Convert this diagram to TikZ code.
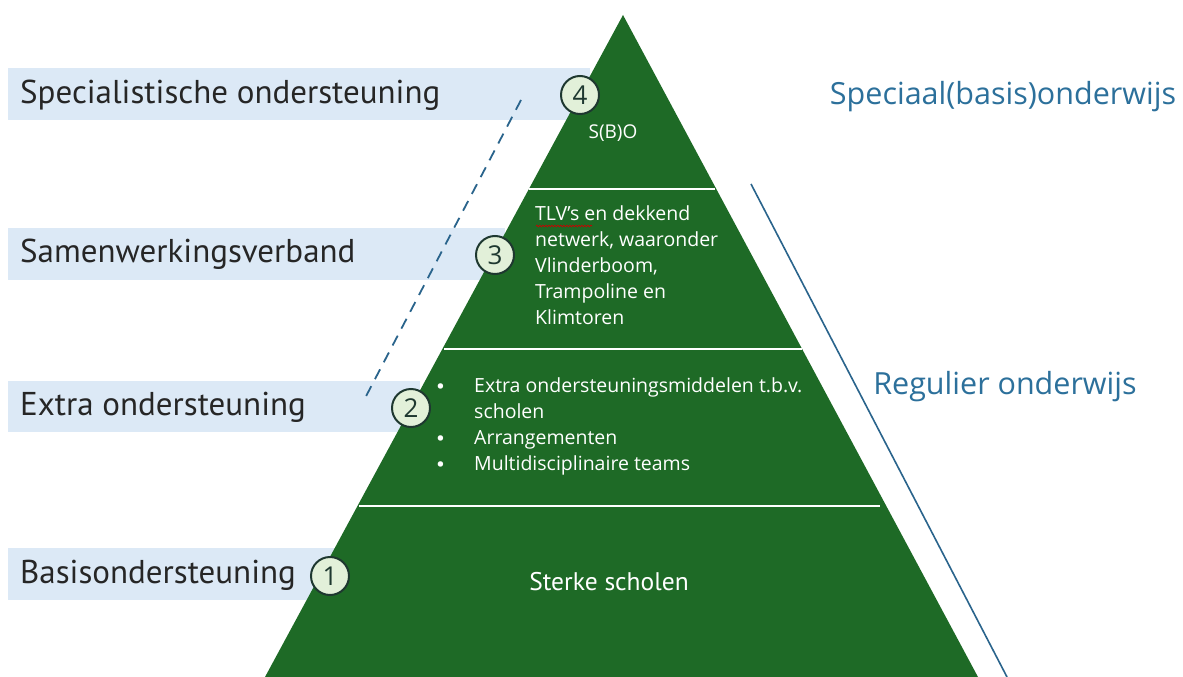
\documentclass[tikz,border=0pt]{standalone}
\usepackage{fontspec}
\setmainfont{Open Sans}
\newfontfamily\labelfont{PT Sans}
\usetikzlibrary{positioning,decorations.pathmorphing}

\definecolor{pyrgreen}{RGB}{30,106,38}
\definecolor{barblue}{RGB}{220,233,246}
\definecolor{badgefill}{RGB}{226,240,217}
\definecolor{badgeline}{RGB}{30,56,48}
\definecolor{sideblue}{RGB}{44,112,155}
\definecolor{lineblue}{RGB}{42,100,140}

\newcommand\bul{\makebox[38pt][l]{\labelfont\textbullet}}

\begin{document}
\begin{tikzpicture}[x=1pt,y=-1pt,
    lvl/.style={anchor=west, inner sep=0pt, text=black!85, font=\labelfont\fontsize{33}{36}\selectfont},
    badge/.style={circle, draw=badgeline, line width=2pt, fill=badgefill, minimum size=38pt, inner sep=0pt,
        text=badgeline, font=\fontsize{26}{26}\selectfont},
    tiertxt/.style={text=white, inner sep=0pt, align=left},
    side/.style={text=sideblue, inner sep=0pt, font=\fontsize{30.5}{34}\selectfont},
    sep/.style={white, line width=2pt},
]
\useasboundingbox[fill=white] (0,0) rectangle (1183,677);

% bars behind the pyramid
\fill[barblue] (8,68) rectangle (590,120);
\fill[barblue] (8,228) rectangle (505,280);
\fill[barblue] (8,381) rectangle (420,432);
\fill[barblue] (8,548) rectangle (335,600);

\node[lvl] (l4) at (20,95) {Specialistische ondersteuning};
\node[lvl] (l3) at (20,254) {Samenwerkingsverband};
\node[lvl] (l2) at (20,407) {Extra ondersteuning};
\node[lvl] (l1) at (20,575) {Basisondersteuning};

% pyramid
\coordinate (top) at (623,15);
\coordinate (bl) at (265,677);
\coordinate (br) at (978,677);
\fill[pyrgreen] (top) -- (bl) -- (br) -- cycle;
\draw[sep] (529,189) -- (715,189);
\draw[sep] (444,349) -- (802,349);
\draw[sep] (359,506) -- (880,506);

\node[tiertxt, font=\fontsize{19}{22}\selectfont] (t4) at (613,133) {S(B)O};
\node[tiertxt, anchor=north west, font=\fontsize{19.5}{26}\selectfont] (t3) at (535,205)
    {TLV’s en dekkend\\netwerk, waaronder\\Vlinderboom,\\Trampoline en\\Klimtoren};
\draw[red!80!black, line width=0.7pt, decorate, decoration={snake, amplitude=0.8pt, segment length=3pt}]
    ([xshift=1pt,yshift=-21pt]t3.north west) -- ++(56,0);
\node[tiertxt, anchor=north west, font=\fontsize{19.5}{26}\selectfont] (t2) at (436,377)
    {\bul Extra ondersteuningsmiddelen t.b.v.\\\hspace*{38pt}scholen\\\bul Arrangementen\\\bul Multidisciplinaire teams};
\node[tiertxt, font=\labelfont\fontsize{25.5}{28}\selectfont] (t1) at (609,582) {Sterke scholen};

% numbered badges
\node[badge] (b4) at (580,95) {4};
\node[badge] (b3) at (495,255) {3};
\node[badge] (b2) at (411,408) {2};
\node[badge] (b1) at (330,576) {1};

% dividers
\coordinate (d1) at (521,100);
\coordinate (d2) at (363,402);
\draw[lineblue, line width=1.8pt, dash pattern=on 11pt off 8pt] (d1) -- (d2);
\coordinate (r1) at (751,184);
\coordinate (r2) at (1007,677);
\draw[lineblue, line width=1.6pt] (r1) -- (r2);

\node[side] (sp) at (1003,97) {Speciaal(basis)onderwijs};
\node[side] (rg) at (1005,387) {Regulier onderwijs};
\end{tikzpicture}
\end{document}
